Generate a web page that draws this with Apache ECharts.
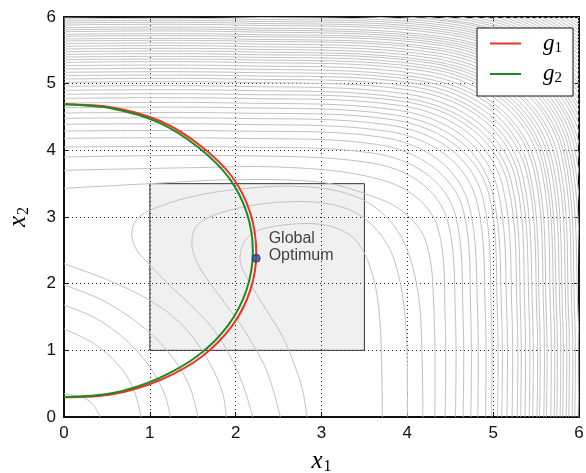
<!DOCTYPE html>
<html>
<head>
<meta charset="utf-8">
<script src="https://cdn.jsdelivr.net/npm/echarts@6/dist/echarts.min.js"></script>
<style>
  html, body { margin: 0; padding: 0; background: #fff; }
  #chart { width: 586px; height: 473px; }
</style>
</head>
<body>
<div id="chart"></div>
<script>
// axis ticks
const ticks = [0, 1, 2, 3, 4, 5, 6];

// constraint boundaries
const g1Curve = [[0,4.69],[0.58,4.64],[1.12,4.44],[1.59,4.07],[1.96,3.6],[2.17,3.06],[2.24,2.46],[2.17,1.9],[1.96,1.37],[1.6,0.9],[1.12,0.555],[0.58,0.345],[0,0.295]];
const g2Curve = [[0,4.69],[0.57,4.625],[1.1,4.42],[1.56,4.05],[1.92,3.59],[2.13,3.06],[2.2,2.49],[2.13,1.92],[1.92,1.39],[1.57,0.93],[1.1,0.58],[0.57,0.36],[0,0.3]];

const optimum = [2.24, 2.38];
const searchBox = [1, 1, 3.5, 3.5];

// U shaped contours round the valley
const innerContours = [
  [[2.83,0],[2.78,0.4],[2.68,0.8],[2.55,1.2],[2.36,1.6],[2.17,2.0],[2.07,2.25],[2.05,2.4],[2.09,2.6],[2.2,2.76],[2.45,2.86],[2.9,2.9],[3.2,2.82],[3.42,2.62],[3.58,2.2],[3.67,1.6],[3.70,0.8],[3.71,0]],
  [[2.52,0],[2.45,0.35],[2.36,0.7],[2.24,1.0],[2.05,1.4],[1.82,1.8],[1.6,2.2],[1.51,2.45],[1.49,2.65],[1.53,2.84],[1.66,2.98],[2.05,3.14],[2.63,3.23],[3.15,3.18],[3.5,2.98],[3.77,2.58],[3.92,2.0],[3.99,1.2],[4.0,0]],
  [[2.2,0],[2.08,0.5],[1.92,0.95],[1.75,1.3],[1.5,1.65],[1.25,1.95],[1.0,2.28],[0.84,2.52],[0.79,2.75],[0.84,2.95],[1.0,3.1],[1.47,3.3],[2.05,3.42],[2.7,3.46],[3.25,3.37],[3.65,3.12],[3.95,2.65],[4.12,1.9],[4.17,1.0],[4.18,0]]
];

// arcs in the lower left corner
const lowerArcs = [
  [[0,2.30],[0.5,2.06],[1.0,1.75],[1.4,1.35],[1.7,0.8],[1.85,0.35],[1.89,0]],
  [[0,1.98],[0.45,1.75],[0.85,1.42],[1.2,1.0],[1.45,0.5],[1.56,0]],
  [[0,1.68],[0.4,1.46],[0.75,1.12],[1.0,0.75],[1.17,0.35],[1.24,0]],
  [[0,1.32],[0.35,1.1],[0.62,0.8],[0.8,0.45],[0.9,0]],
  [[0,0.35],[0.2,0.3],[0.33,0.2],[0.42,0]]
];

// outer contours wrapping round the upper right
const outerContours = [
  [[0,3.43],[1,3.5],[2,3.56],[3.0,3.52],[3.55,3.33],[3.95,3.08],[4.22,2.62],[4.31,1.6],[4.32,0]],
  [[0,3.70],[1.5,3.74],[2.5,3.75],[3.46,3.63],[4.05,3.35],[4.36,2.82],[4.44,1.5],[4.44,0]],
  [[0,3.90],[2,3.92],[3.54,3.82],[4.15,3.52],[4.47,2.94],[4.56,1.5],[4.56,0]],
  [[0,4.05],[2,4.05],[3.59,3.96],[4.23,3.64],[4.56,3.03],[4.65,1.5],[4.65,0]],
  [[0,4.18],[2,4.18],[3.64,4.09],[4.30,3.75],[4.65,3.11],[4.74,1.5],[4.74,0]],
  [[0,4.29],[2,4.29],[3.69,4.20],[4.37,3.85],[4.72,3.17],[4.82,1.5],[4.82,0]],
  [[0,4.39],[2,4.39],[3.75,4.29],[4.45,3.93],[4.81,3.23],[4.91,1.5],[4.91,0]],
  [[0,4.48],[2,4.48],[3.79,4.38],[4.51,4.01],[4.88,3.29],[4.98,1.5],[4.98,0]],
  [[0,4.56],[2,4.56],[3.83,4.46],[4.57,4.07],[4.95,3.34],[5.05,1.5],[5.05,0]],
  [[0,4.64],[2,4.64],[3.86,4.53],[4.61,4.14],[4.99,3.38],[5.10,1.5],[5.10,0]],
  [[0,4.71],[2,4.71],[3.90,4.60],[4.66,4.20],[5.05,3.43],[5.16,1.5],[5.16,0]],
  [[0,4.78],[2,4.78],[3.93,4.67],[4.71,4.26],[5.11,3.47],[5.22,1.5],[5.22,0]],
  [[0,4.84],[2,4.84],[3.97,4.73],[4.76,4.31],[5.17,3.50],[5.28,1.5],[5.28,0]],
  [[0,4.90],[2,4.90],[3.99,4.78],[4.79,4.36],[5.21,3.54],[5.32,1.5],[5.32,0]],
  [[0,4.96],[2,4.96],[4.02,4.84],[4.83,4.41],[5.26,3.58],[5.37,1.5],[5.37,0]],
  [[0,5.02],[2,5.02],[4.05,4.90],[4.88,4.46],[5.30,3.61],[5.42,1.5],[5.42,0]],
  [[0,5.07],[2,5.07],[4.08,4.95],[4.91,4.50],[5.34,3.64],[5.46,1.5],[5.46,0]],
  [[0,5.12],[2,5.12],[4.11,5.00],[4.95,4.54],[5.39,3.67],[5.51,1.5],[5.51,0]],
  [[0,5.17],[2,5.17],[4.12,5.05],[4.98,4.59],[5.42,3.70],[5.54,1.5],[5.54,0]],
  [[0,5.22],[2,5.22],[4.15,5.09],[5.02,4.63],[5.47,3.73],[5.59,1.5],[5.59,0]],
  [[0,5.27],[2,5.27],[4.17,5.14],[5.04,4.67],[5.50,3.76],[5.62,1.5],[5.62,0]],
  [[0,5.32],[2,5.32],[4.20,5.19],[5.09,4.71],[5.55,3.79],[5.67,1.5],[5.67,0]],
  [[0,5.36],[2,5.36],[4.23,5.23],[5.12,4.75],[5.58,3.82],[5.71,1.5],[5.71,0]],
  [[0,5.40],[2,5.40],[4.24,5.27],[5.15,4.78],[5.61,3.84],[5.74,1.5],[5.74,0]],
  [[0,5.44],[2,5.44],[4.27,5.31],[5.18,4.81],[5.65,3.86],[5.78,1.5],[5.78,0]],
  [[0,5.48],[2,5.48],[4.29,5.34],[5.20,4.85],[5.68,3.89],[5.81,1.5],[5.81,0]],
  [[0,5.52],[2,5.52],[4.31,5.38],[5.24,4.88],[5.72,3.91],[5.85,1.5],[5.85,0]],
  [[0,5.56],[2,5.56],[4.33,5.42],[5.26,4.91],[5.75,3.94],[5.88,1.5],[5.88,0]],
  [[0,5.60],[2,5.60],[4.35,5.46],[5.30,4.95],[5.79,3.96],[5.92,1.5],[5.92,0]],
  [[0,5.64],[2,5.64],[4.37,5.50],[5.32,4.98],[5.82,3.98],[5.95,1.5],[5.95,0]],
  [[0,5.67],[2,5.67],[4.39,5.53],[5.36,5.01],[5.85,4.00],[5.99,1.5],[5.99,0]],
  [[0,5.71],[2,5.71],[4.41,5.57],[5.38,5.04],[5.88,4.03],[6.02,1.5],[6.02,0]],
  [[0,5.74],[2,5.74],[4.43,5.60],[5.41,5.07],[5.91,4.04],[6.05,1.5],[6.05,0]],
  [[0,5.78],[2,5.78],[4.45,5.63],[5.43,5.10],[5.94,4.07],[6.08,1.5],[6.08,0]],
  [[0,5.81],[2,5.81],[4.47,5.66],[5.46,5.13],[5.97,4.09],[6.11,1.5],[6.11,0]],
  [[0,5.84],[2,5.84],[4.48,5.69],[5.48,5.15],[6.00,4.10],[6.14,1.5],[6.14,0]],
  [[0,5.88],[2,5.88],[4.50,5.73],[5.51,5.18],[6.03,4.13],[6.17,1.5],[6.17,0]],
  [[0,5.91],[2,5.91],[4.52,5.76],[5.53,5.21],[6.06,4.15],[6.20,1.5],[6.20,0]],
  [[0,5.94],[2,5.94],[4.54,5.79],[5.56,5.23],[6.09,4.16],[6.23,1.5],[6.23,0]],
  [[0,5.97],[2,5.97],[4.56,5.82],[5.58,5.26],[6.12,4.18],[6.26,1.5],[6.26,0]],
  [[0,6.00],[2,6.00],[4.57,5.85],[5.61,5.28],[6.14,4.20],[6.29,1.5],[6.29,0]],
  [[0,6.03],[2,6.03],[4.59,5.88],[5.63,5.31],[6.17,4.22],[6.32,1.5],[6.32,0]],
  [[0,6.06],[2,6.06],[4.61,5.91],[5.66,5.34],[6.20,4.24],[6.35,1.5],[6.35,0]],
  [[0,6.09],[2,6.09],[4.63,5.93],[5.68,5.36],[6.23,4.25],[6.38,1.5],[6.38,0]],
  [[0,6.12],[2,6.12],[4.65,5.96],[5.71,5.39],[6.26,4.27],[6.41,1.5],[6.41,0]],
  [[0,6.15],[2,6.15],[4.66,5.99],[5.73,5.41],[6.29,4.29],[6.44,1.5],[6.44,0]],
  [[0,6.18],[2,6.18],[4.68,6.02],[5.76,5.44],[6.32,4.31],[6.47,1.5],[6.47,0]],
  [[0,6.21],[2,6.21],[4.70,6.05],[5.79,5.46],[6.35,4.33],[6.50,1.5],[6.50,0]],
  [[0,6.24],[2,6.24],[4.72,6.08],[5.81,5.49],[6.38,4.34],[6.53,1.5],[6.53,0]],
  [[0,6.27],[2,6.27],[4.74,6.11],[5.84,5.51],[6.41,4.36],[6.56,1.5],[6.56,0]],
  [[0,6.30],[2,6.30],[4.75,6.14],[5.86,5.54],[6.43,4.38],[6.59,1.5],[6.59,0]],
  [[0,6.33],[2,6.33],[4.77,6.17],[5.89,5.56],[6.46,4.40],[6.62,1.5],[6.62,0]],
  [[0,6.36],[2,6.36],[4.79,6.19],[5.91,5.59],[6.49,4.42],[6.65,1.5],[6.65,0]],
  [[0,6.39],[2,6.39],[4.81,6.22],[5.94,5.61],[6.52,4.43],[6.68,1.5],[6.68,0]],
  [[0,6.42],[2,6.42],[4.83,6.25],[5.96,5.64],[6.55,4.45],[6.71,1.5],[6.71,0]],
  [[0,6.45],[2,6.45],[4.84,6.28],[5.99,5.66],[6.58,4.47],[6.74,1.5],[6.74,0]],
  [[0,6.48],[2,6.48],[4.86,6.31],[6.01,5.69],[6.61,4.49],[6.77,1.5],[6.77,0]],
  [[0,6.51],[2,6.51],[4.88,6.34],[6.04,5.71],[6.64,4.51],[6.80,1.5],[6.80,0]],
  [[0,6.54],[2,6.54],[4.90,6.37],[6.06,5.74],[6.67,4.52],[6.83,1.5],[6.83,0]],
  [[0,6.57],[2,6.57],[4.92,6.40],[6.09,5.76],[6.69,4.54],[6.86,1.5],[6.86,0]],
  [[0,6.60],[2,6.60],[4.93,6.43],[6.11,5.79],[6.72,4.56],[6.89,1.5],[6.89,0]],
  [[0,6.63],[2,6.63],[4.95,6.46],[6.14,5.81],[6.75,4.58],[6.92,1.5],[6.92,0]],
  [[0,6.66],[2,6.66],[4.97,6.48],[6.16,5.84],[6.78,4.60],[6.95,1.5],[6.95,0]]
];

let chartDom = document.getElementById("chart"),
    myChart = echarts.init(chartDom);

const serifFont = "'Liberation Serif', 'DejaVu Serif', serif";
const sansFont = "'Liberation Sans', Arial, sans-serif";
const mathRich = {
  v: { fontFamily: serifFont, fontStyle: 'italic', fontSize: 25, lineHeight: 28, color: '#000' },
  s: { fontFamily: serifFont, fontSize: 16, lineHeight: 16, verticalAlign: 'bottom', color: '#000', padding: [0, 0, 0, 1] }
};

// smooth polylines through the data points, converted with the axes' scales
function curveSeries(list, stroke, width, z, extra) {
  return Object.assign({
    type: 'custom',
    silent: true,
    clip: true,
    z: z,
    encode: { x: 0, y: 1 },
    data: list.map(() => [0, 0]),
    renderItem(params, api) {
      let pts = list[params.dataIndex].map(p => api.coord(p)),
          cs = params.coordSys;
      return {
        type: 'polyline',
        shape: { points: pts, smooth: 0.35 },
        style: { fill: 'none', stroke: stroke, lineWidth: width },
        clipPath: { type: 'rect', shape: { x: cs.x, y: cs.y, width: cs.width, height: cs.height } }
      };
    }
  }, extra || {});
}

let series = [];

// shaded box
series.push({
  type: 'custom',
  silent: true,
  z: 1,
  encode: { x: [0, 2], y: [1, 3] },
  data: [searchBox],
  renderItem(params, api) {
    let p0 = api.coord([api.value(0), api.value(1)]),
        p1 = api.coord([api.value(2), api.value(3)]);
    return {
      type: 'rect',
      shape: { x: p0[0], y: p1[1], width: p1[0] - p0[0], height: p0[1] - p1[1] },
      style: { fill: 'rgba(0,0,0,0.06)', stroke: '#333', lineWidth: 1 }
    };
  }
});

// contour lines
series.push(curveSeries([...outerContours, ...innerContours, ...lowerArcs], '#c2c2c2', 1, 2));

series.push(curveSeries([g1Curve], '#ee3326', 2, 3, { name: 'g1', itemStyle: { color: '#ee3326' } }));
series.push(curveSeries([g2Curve], '#1d8a22', 2, 3, { name: 'g2', itemStyle: { color: '#1d8a22' } }));

series.push({
  type: 'scatter', data: [optimum], symbolSize: 8, z: 4,
  itemStyle: { color: '#2d4f9f', borderColor: '#1a1a3a', borderWidth: 0.8 },
  label: {
    show: true, formatter: 'Global\nOptimum', position: 'right', distance: 8, offset: [0, -11],
    fontFamily: sansFont, fontSize: 16, lineHeight: 17, color: '#111', align: 'left'
  }
});

let axisCommon = {
  type: 'value', min: 0, max: 6, interval: 1,
  axisLine: { show: true, onZero: false, lineStyle: { color: '#111', width: 2 } },
  axisTick: { show: true, inside: true, length: 5, lineStyle: { color: '#111', width: 1 } }
};

let option = {
  animation: false,
  backgroundColor: '#fff',
  grid: { left: 64, right: 7, top: 17, bottom: 56, outerBoundsMode: 'none', containLabel: false },
  legend: {
    data: ['g1', 'g2'],
    orient: 'vertical',
    left: 477, top: 28,
    icon: 'rect', itemWidth: 31, itemHeight: 2, itemGap: 7,
    padding: [4, 11, 10, 13],
    backgroundColor: '#fff', borderColor: '#111', borderWidth: 1, borderRadius: 0,
    formatter: name => '{v|g}{s|' + name.slice(1) + '}',
    textStyle: { padding: [0, 0, 0, 17], rich: {
      v: { fontFamily: serifFont, fontStyle: 'italic', fontSize: 23, lineHeight: 24, color: '#000' },
      s: { fontFamily: serifFont, fontSize: 15, lineHeight: 15, verticalAlign: 'bottom', color: '#000' }
    } }
  },
  xAxis: [
    Object.assign({}, axisCommon, {
      position: 'bottom',
      name: '{v|x}{s|1}', nameLocation: 'middle', nameGap: 30,
      nameTextStyle: { rich: mathRich },
      axisLabel: { margin: 8, fontFamily: sansFont, fontSize: 17, color: '#111',
        formatter: v => ticks.includes(v) ? String(v) : '' },
      splitLine: { show: true, lineStyle: { color: '#222', width: 1, type: [1, 3] } }
    }),
    Object.assign({}, axisCommon, {
      position: 'top', axisLabel: { show: false }, splitLine: { show: false }
    })
  ],
  yAxis: [
    Object.assign({}, axisCommon, {
      position: 'left',
      name: '{v|x}{s|2}', nameLocation: 'middle', nameGap: 32, nameRotate: 90,
      nameTextStyle: { rich: mathRich },
      axisLabel: { margin: 8, fontFamily: sansFont, fontSize: 17, color: '#111',
        formatter: v => ticks.includes(v) ? String(v) : '' },
      splitLine: { show: true, lineStyle: { color: '#222', width: 1, type: [1, 3] } }
    }),
    Object.assign({}, axisCommon, {
      position: 'right', axisLabel: { show: false }, splitLine: { show: false }
    })
  ],
  series: series
};

option && myChart.setOption(option);
</script>
</body>
</html>
